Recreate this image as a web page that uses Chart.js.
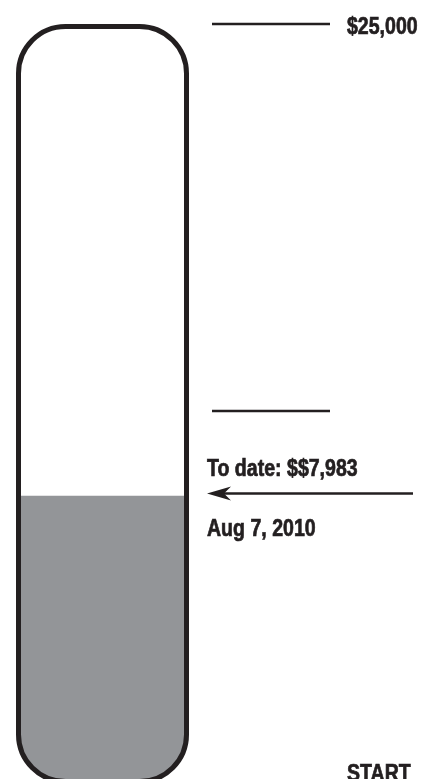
<!DOCTYPE html>
<html>
<head>
<meta charset="utf-8">
<script src="https://cdn.jsdelivr.net/npm/chart.js@4/dist/chart.umd.min.js"></script>
<style>
  html, body { margin: 0; padding: 0; background: #fff; }
  #thermo { display: block; }
</style>
</head>
<body>
<canvas id="thermo" width="433" height="779"></canvas>
<script>
// data
const categories = ["Raised"];
const raised = [7983];
const markerValues = [25000, 11050];
const markerLabels = ["$25,000", ""];
const toDateText = "To date: $$7,983";
const dateText = "Aug 7, 2010";
const startText = "START";

const ink = "#231f20";
const fillGray = "#939598";
const labelFont = 'bold 23px "Liberation Sans", Arial, sans-serif';
const squeeze = 0.85; // the original lettering is a condensed face
const radius = 47;
const stroke = 5;

function tubePath(ctx, area) {
    const x = area.left + stroke / 2;
    const y = area.top + stroke / 2;
    const w = area.right - area.left - stroke;
    const h = area.bottom - area.top;
    ctx.beginPath();
    ctx.roundRect(x, y, w, h, radius);
}

function label(ctx, text, x, y) {
    ctx.save();
    ctx.translate(x, y);
    ctx.scale(squeeze, 1);
    ctx.lineWidth = 0.7;
    ctx.fillText(text, 0, 0);
    ctx.strokeText(text, 0, 0);
    ctx.restore();
}

const thermometer = {
    id: "thermometer",
    beforeDatasetsDraw(chart) {
        const ctx = chart.ctx;
        ctx.save();
        tubePath(ctx, chart.chartArea);
        ctx.clip();
    },
    afterDatasetsDraw(chart) {
        const ctx = chart.ctx;
        const area = chart.chartArea;
        const y = chart.scales.y;
        ctx.restore();

        // tube outline
        ctx.save();
        tubePath(ctx, area);
        ctx.lineWidth = stroke;
        ctx.strokeStyle = ink;
        ctx.stroke();

        ctx.fillStyle = ink;
        ctx.strokeStyle = ink;
        ctx.font = labelFont;
        ctx.textBaseline = "alphabetic";

        // goal markers
        markerValues.forEach((v, i) => {
            const py = Math.round(y.getPixelForValue(v));
            ctx.lineWidth = 2.5;
            ctx.beginPath();
            ctx.moveTo(212, py);
            ctx.lineTo(330, py);
            ctx.stroke();
            if (markerLabels[i]) label(ctx, markerLabels[i], 347, py + 10);
        });

        // to-date arrow
        const ry = y.getPixelForValue(raised[0]);
        const ay = ry - 2.5;
        ctx.lineWidth = 2.5;
        ctx.beginPath();
        ctx.moveTo(413, ay);
        ctx.lineTo(220, ay);
        ctx.stroke();
        ctx.beginPath();
        ctx.moveTo(207, ay);
        ctx.lineTo(231, ay - 7);
        ctx.lineTo(224, ay);
        ctx.lineTo(231, ay + 7);
        ctx.closePath();
        ctx.fill();

        label(ctx, toDateText, 207, ry - 20);
        label(ctx, dateText, 207, ry + 40);
        label(ctx, startText, 347, area.bottom + 2);
        ctx.restore();
    }
};

new Chart(document.getElementById("thermo"), {
    type: "bar",
    data: {
        labels: categories,
        datasets: [{
            data: raised,
            base: -2220,
            backgroundColor: fillGray,
            borderWidth: 0,
            barPercentage: 1,
            categoryPercentage: 1
        }]
    },
    options: {
        responsive: false,
        animation: false,
        layout: { padding: { top: 24, left: 16, right: 244, bottom: 0 } },
        plugins: { legend: { display: false }, tooltip: { enabled: false } },
        scales: {
            x: { display: false },
            y: { display: false, min: -2220, max: 25000 }
        }
    },
    plugins: [thermometer]
});
</script>
</body>
</html>
